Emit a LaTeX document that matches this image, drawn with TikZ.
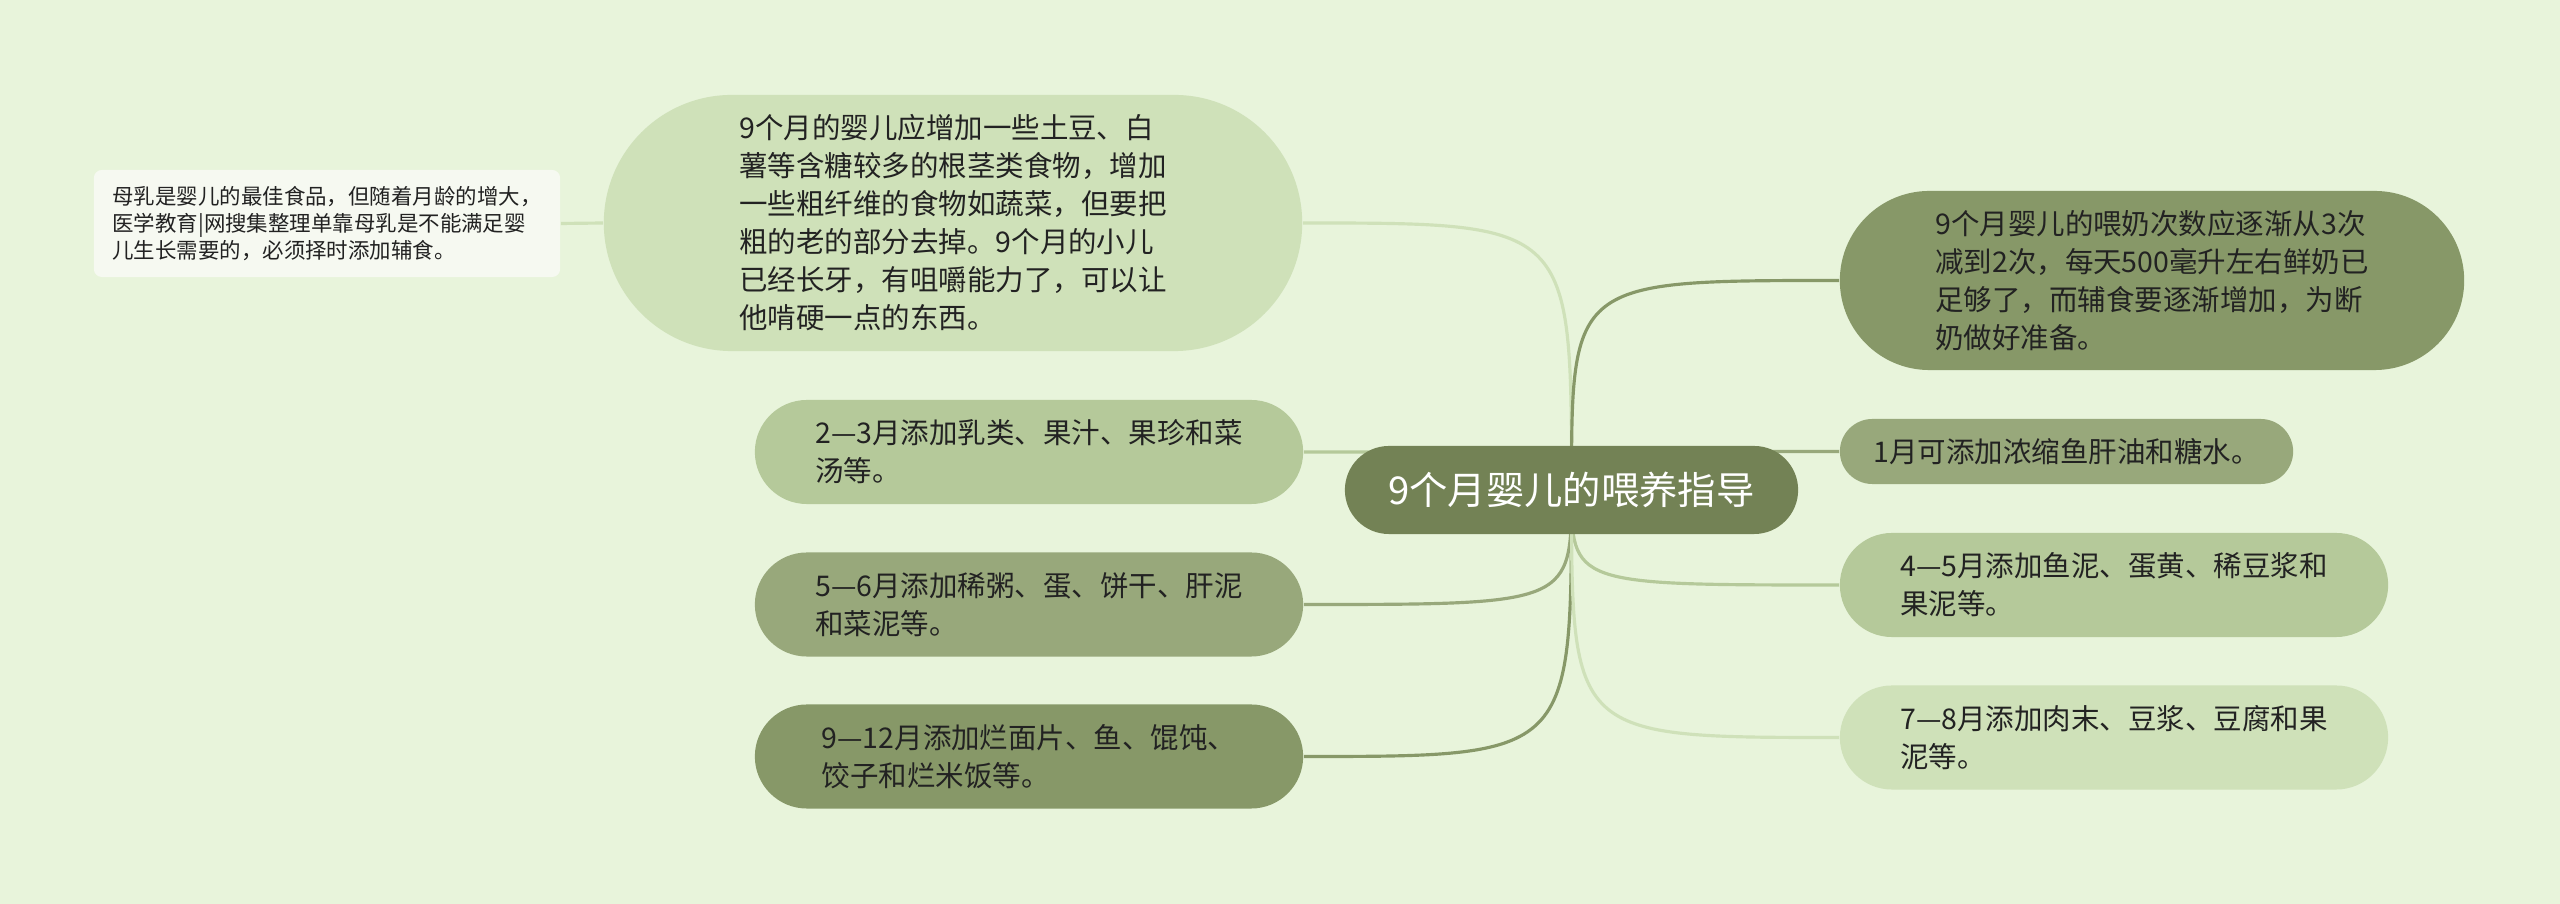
\documentclass[tikz,border=0pt]{standalone}
\usepackage{fontspec}
\setmainfont{Noto Sans CJK SC}
\usepackage{xcolor}
\definecolor{bgcol}{HTML}{E8F4DB}
\definecolor{rootcol}{HTML}{738255}
\definecolor{leafA}{HTML}{CFE1B9}
\definecolor{leafB}{HTML}{B5C99A}
\definecolor{leafC}{HTML}{98A87B}
\definecolor{leafD}{HTML}{879868}
\definecolor{notecol}{HTML}{F6F9F1}
\definecolor{ink}{HTML}{222222}
\pgfdeclarelayer{back}
\pgfdeclarelayer{links}
\pgfsetlayers{back,links,main}
\tikzset{
  root/.style={fill=rootcol, text=white, inner sep=0pt, minimum width=4.53cm, minimum height=0.88cm, rounded corners=0.44cm, font=\fontsize{10.9}{13}\selectfont},
  leaf/.style={fill=#1, text=ink, inner sep=0pt, align=left, font=\fontsize{8.1}{10.8}\selectfont},
  note/.style={fill=notecol, text=ink, inner sep=0pt, align=left, rounded corners=0.08cm, minimum width=4.66cm, minimum height=1.07cm, font=\fontsize{6.1}{7.6}\selectfont},
  link/.style={draw=#1, line width=0.9pt}
}
\begin{document}
\begin{tikzpicture}[x=0.01cm, y=-0.01cm]
				% background
				\begin{pgfonlayer}{back}
				\fill[bgcol] (0,0) rectangle (2560,904);
				\end{pgfonlayer}
				\useasboundingbox (0,0) rectangle (2560,904);
				% central topic
				\node[root] (c) at (1571.5,490) {9个月婴儿的喂养指导};
				% left side
				\node[leaf=leafA, minimum width=6.98cm, minimum height=2.56cm, rounded corners=1.28cm] (n1) at (953,223) {9个月的婴儿应增加一些土豆、白\\薯等含糖较多的根茎类食物，增加\\一些粗纤维的食物如蔬菜，但要把\\粗的老的部分去掉。9个月的小儿\\已经长牙，有咀嚼能力了，可以让\\他啃硬一点的东西。};
				\node[note] (n0) at (327,223.5) {母乳是婴儿的最佳食品，但随着月龄的增大，\\医学教育|网搜集整理单靠母乳是不能满足婴\\儿生长需要的，必须择时添加辅食。};
				\node[leaf=leafB, minimum width=5.48cm, minimum height=1.04cm, rounded corners=0.52cm] (n2) at (1029,452) {2—3月添加乳类、果汁、果珍和菜\\汤等。};
				\node[leaf=leafC, minimum width=5.48cm, minimum height=1.04cm, rounded corners=0.52cm] (n3) at (1029,604.5) {5—6月添加稀粥、蛋、饼干、肝泥\\和菜泥等。};
				\node[leaf=leafD, minimum width=5.48cm, minimum height=1.04cm, rounded corners=0.52cm] (n4) at (1029,756.5) {9—12月添加烂面片、鱼、馄饨、\\饺子和烂米饭等。};
				% right side
				\node[leaf=leafD, minimum width=6.24cm, minimum height=1.79cm, rounded corners=0.895cm] (m1) at (2152,280.5) {9个月婴儿的喂奶次数应逐渐从3次\\减到2次，每天500毫升左右鲜奶已\\足够了，而辅食要逐渐增加，为断\\奶做好准备。};
				\node[leaf=leafC, minimum width=4.53cm, minimum height=0.65cm, rounded corners=0.325cm] (m2) at (2066.5,451.5) {1月可添加浓缩鱼肝油和糖水。};
				\node[leaf=leafB, minimum width=5.48cm, minimum height=1.04cm, rounded corners=0.52cm] (m3) at (2114,585) {4—5月添加鱼泥、蛋黄、稀豆浆和\\果泥等。};
				\node[leaf=leafA, minimum width=5.48cm, minimum height=1.04cm, rounded corners=0.52cm] (m4) at (2114,737.5) {7—8月添加肉末、豆浆、豆腐和果\\泥等。};
				% links
				\begin{pgfonlayer}{links}
				\draw[link=leafA] (n0.east) -- (n1.west);
				\draw[link=leafA] (c.center) .. controls (c.center |- n1.east) .. (n1.east);
				\draw[link=leafB] (c.center) .. controls (c.center |- n2.east) .. (n2.east);
				\draw[link=leafC] (c.center) .. controls (c.center |- n3.east) .. (n3.east);
				\draw[link=leafD] (c.center) .. controls (c.center |- n4.east) .. (n4.east);
				\draw[link=leafD] (c.center) .. controls (c.center |- m1.west) .. (m1.west);
				\draw[link=leafC] (c.center) .. controls (c.center |- m2.west) .. (m2.west);
				\draw[link=leafB] (c.center) .. controls (c.center |- m3.west) .. (m3.west);
				\draw[link=leafA] (c.center) .. controls (c.center |- m4.west) .. (m4.west);
				\end{pgfonlayer}
\end{tikzpicture}
\end{document}
